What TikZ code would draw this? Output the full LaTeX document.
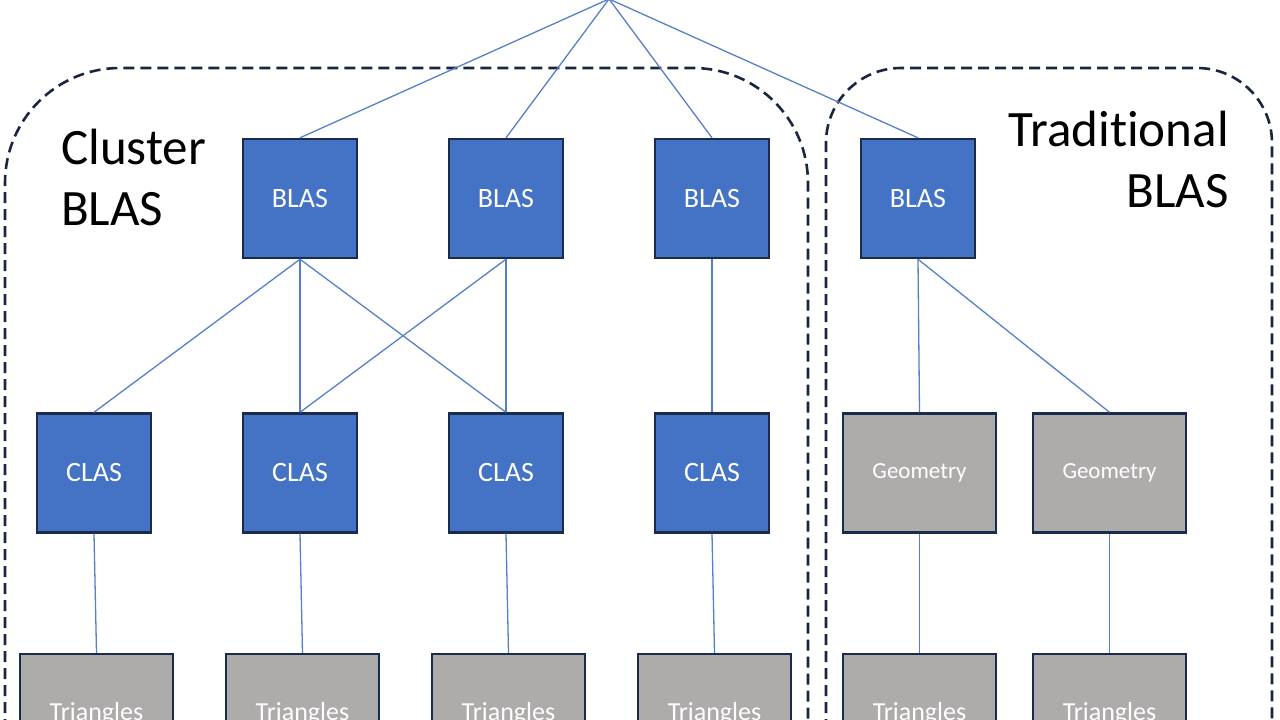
\documentclass[tikz,border=0pt]{standalone}
\usepackage{fontspec}
\setmainfont{Carlito}[Ligatures=NoCommon]
\definecolor{blueA}{HTML}{4472C4}
\definecolor{greyA}{HTML}{AEABAB}
\definecolor{boxline}{HTML}{1A2B4E}
\definecolor{linkc}{HTML}{5580C8}
\definecolor{dashc}{HTML}{1A2640}
\begin{document}
\begin{tikzpicture}[x=1pt,y=-1pt,
  box/.style={draw=boxline, line width=2.4pt, inner sep=0pt, text=white},
  blasbox/.style={box, fill=blueA, minimum width=114pt, minimum height=119pt, font=\fontsize{28}{34}\selectfont},
  geobox/.style={box, fill=greyA, minimum width=153pt, minimum height=119pt, font=\fontsize{23}{28}\selectfont},
  tribox/.style={geobox, font=\fontsize{26}{31}\selectfont},
  link/.style={draw=linkc, line width=1.3pt},
  group/.style={draw=dashc, line width=2.6pt, dash pattern=on 11pt off 6pt},
  title/.style={inner sep=0pt, font=\fontsize{51}{61}\selectfont, text=black}]
\useasboundingbox (0,0) rectangle (1280,720);
\clip (0,0) rectangle (1280,720);
% groups
\draw[group, rounded corners=115pt] (5,900) -- (5,68) -- (808,68) -- (808,900);
\draw[group, rounded corners=75pt] (826,900) -- (826,68) -- (1272,68) -- (1272,900);
% titles
\node[title, anchor=north west, align=left] (lblc) at (61,129) {Cluster\\BLAS};
\node[title, anchor=north east, align=right] (lblt) at (1229,111) {Traditional\\BLAS};
% apex
\coordinate (apex) at (609,-1);
% nodes
\node[blasbox] (b1) at (300,198.5) {BLAS};
\node[blasbox] (b2) at (506,198.5) {BLAS};
\node[blasbox] (b3) at (712,198.5) {BLAS};
\node[blasbox] (b4) at (918,198.5) {BLAS};
\node[blasbox] (c1) at (94,473) {CLAS};
\node[blasbox] (c2) at (300,473) {CLAS};
\node[blasbox] (c3) at (506,473) {CLAS};
\node[blasbox] (c4) at (712,473) {CLAS};
\node[geobox] (g1) at (919.5,473) {Geometry};
\node[geobox] (g2) at (1109.5,473) {Geometry};
\node[tribox] (t1) at (96.5,713.5) {Triangles};
\node[tribox] (t2) at (302.5,713.5) {Triangles};
\node[tribox] (t3) at (508.5,713.5) {Triangles};
\node[tribox] (t4) at (714.5,713.5) {Triangles};
\node[tribox] (t5) at (919.5,713.5) {Triangles};
\node[tribox] (t6) at (1109.5,713.5) {Triangles};
% links
\foreach \b in {b1,b2,b3,b4} \draw[link] (apex) -- (\b.north);
\draw[link] (b1.south) -- (c1.north);
\draw[link] (b1.south) -- (c2.north);
\draw[link] (b1.south) -- (c3.north);
\draw[link] (b2.south) -- (c2.north);
\draw[link] (b2.south) -- (c3.north);
\draw[link] (b3.south) -- (c4.north);
\draw[link] (b4.south) -- (g1.north);
\draw[link] (b4.south) -- (g2.north);
\draw[link] (c1.south) -- (t1.north);
\draw[link] (c2.south) -- (t2.north);
\draw[link] (c3.south) -- (t3.north);
\draw[link] (c4.south) -- (t4.north);
\draw[link] (g1.south) -- (t5.north);
\draw[link] (g2.south) -- (t6.north);
\end{tikzpicture}
\end{document}
